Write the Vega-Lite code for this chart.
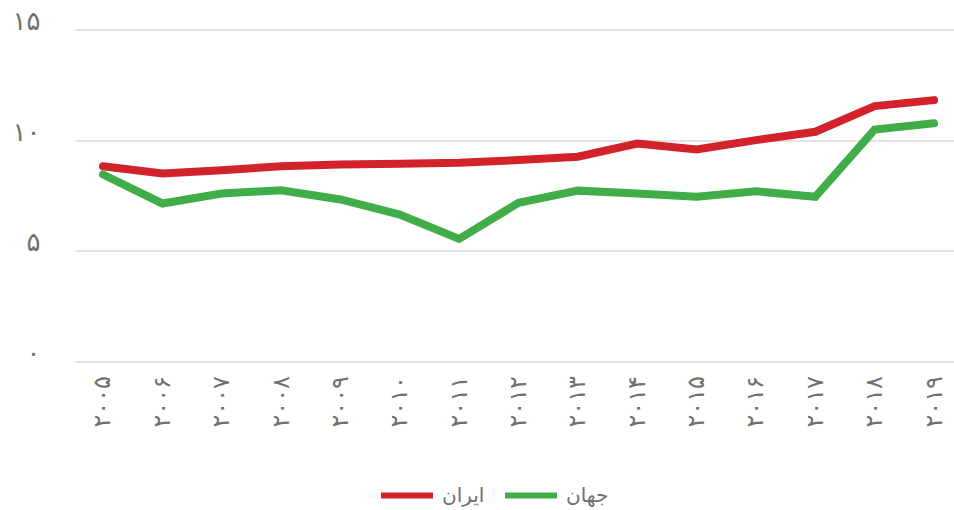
{
  "$schema": "https://vega.github.io/schema/vega-lite/v6.json",
  "width": 887,
  "height": 332,
  "autosize": "none",
  "padding": {"left": 75, "top": 29.5, "right": 0, "bottom": 148.5},
  "background": "white",
  "config": {
    "view": {"stroke": null},
    "font": "DejaVu Sans"
  },
  "data": {
    "values": [
      {"year": "۲۰۰۵", "series": "ایران", "value": 8.82},
      {"year": "۲۰۰۶", "series": "ایران", "value": 8.49},
      {"year": "۲۰۰۷", "series": "ایران", "value": 8.64},
      {"year": "۲۰۰۸", "series": "ایران", "value": 8.82},
      {"year": "۲۰۰۹", "series": "ایران", "value": 8.9},
      {"year": "۲۰۱۰", "series": "ایران", "value": 8.93},
      {"year": "۲۰۱۱", "series": "ایران", "value": 8.98},
      {"year": "۲۰۱۲", "series": "ایران", "value": 9.1},
      {"year": "۲۰۱۳", "series": "ایران", "value": 9.25},
      {"year": "۲۰۱۴", "series": "ایران", "value": 9.85},
      {"year": "۲۰۱۵", "series": "ایران", "value": 9.58},
      {"year": "۲۰۱۶", "series": "ایران", "value": 10.0},
      {"year": "۲۰۱۷", "series": "ایران", "value": 10.38},
      {"year": "۲۰۱۸", "series": "ایران", "value": 11.54},
      {"year": "۲۰۱۹", "series": "ایران", "value": 11.81},
      {"year": "۲۰۰۵", "series": "جهان", "value": 8.45},
      {"year": "۲۰۰۶", "series": "جهان", "value": 7.14},
      {"year": "۲۰۰۷", "series": "جهان", "value": 7.59},
      {"year": "۲۰۰۸", "series": "جهان", "value": 7.74},
      {"year": "۲۰۰۹", "series": "جهان", "value": 7.32},
      {"year": "۲۰۱۰", "series": "جهان", "value": 6.64},
      {"year": "۲۰۱۱", "series": "جهان", "value": 5.54},
      {"year": "۲۰۱۲", "series": "جهان", "value": 7.17},
      {"year": "۲۰۱۳", "series": "جهان", "value": 7.72},
      {"year": "۲۰۱۴", "series": "جهان", "value": 7.59},
      {"year": "۲۰۱۵", "series": "جهان", "value": 7.44},
      {"year": "۲۰۱۶", "series": "جهان", "value": 7.69},
      {"year": "۲۰۱۷", "series": "جهان", "value": 7.44},
      {"year": "۲۰۱۸", "series": "جهان", "value": 10.48},
      {"year": "۲۰۱۹", "series": "جهان", "value": 10.76}
    ]
  },
  "mark": {"type": "line", "strokeWidth": 8, "strokeCap": "round", "strokeJoin": "miter"},
  "encoding": {
    "x": {
      "field": "year",
      "type": "ordinal",
      "sort": null,
      "scale": {"type": "point", "padding": 0.4717},
      "axis": {
        "title": null,
        "domain": false,
        "ticks": false,
        "grid": false,
        "labelAngle": -90,
        "labelFontSize": 24,
        "labelColor": "#707070",
        "labelPadding": 14
      }
    },
    "y": {
      "field": "value",
      "type": "quantitative",
      "scale": {"domain": [0, 15]},
      "axis": {
        "title": null,
        "values": [0, 5, 10, 15],
        "labelExpr": "datum.value == 0 ? '۰' : datum.value == 5 ? '۵' : datum.value == 10 ? '۱۰' : '۱۵'",
        "domain": false,
        "ticks": false,
        "gridColor": "#d9d9d9",
        "gridWidth": 1.5,
        "labelFontSize": 26,
        "labelColor": "#707070",
        "labelPadding": 35,
        "labelBaseline": "alphabetic",
        "labelOffset": 0
      }
    },
    "color": {
      "field": "series",
      "type": "nominal",
      "scale": {"domain": ["ایران", "جهان"], "range": ["#D2232A", "#41AD49"]},
      "legend": {
        "title": null,
        "orient": "none",
        "legendX": 303,
        "legendY": 437,
        "direction": "horizontal",
        "symbolType": "stroke",
        "symbolSize": 2700,
        "symbolStrokeWidth": 6,
        "labelFontSize": 20,
        "labelColor": "#707070",
        "labelOffset": 6,
        "columnPadding": 8
      }
    }
  }
}
